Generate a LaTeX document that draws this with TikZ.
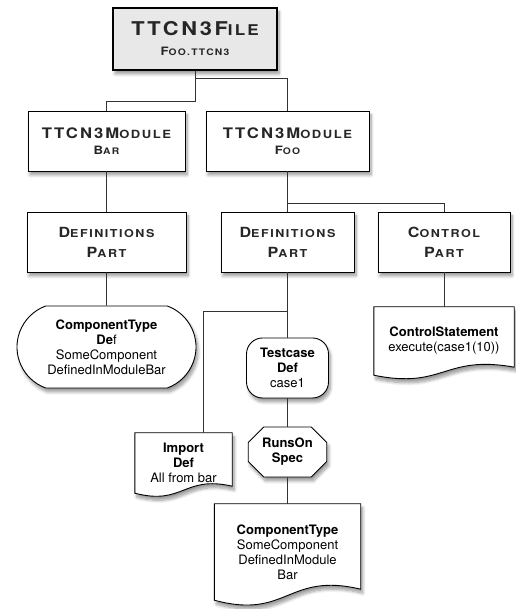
\documentclass[tikz,border=0pt]{standalone}
\usepackage{fontspec}
\setmainfont{TeX Gyre Heros}
\newfontfamily\cpfont[LetterSpace=14,FakeStretch=1.15]{TeX Gyre Heros}
\usetikzlibrary{shapes.misc,shadows.blur,backgrounds,calc}
\tikzset{>=latex}
\makeatletter
\newcommand\cps[1]{{\fontsize{\fpeval{0.78*\f@size}}{\f@baselineskip}\selectfont#1}}
\makeatother

\begin{document}
\begin{tikzpicture}[x=1pt,y=1pt]
        \useasboundingbox (0,0) rectangle (515,609);

        % Setup the styles for the boxes
        \tikzset{part style/.style={draw,
                                    line width=0.9pt,
                                    fill=white,
                                    minimum height=60pt,
                                    align=center,
                                    inner sep=2pt,
                                    blur shadow={shadow xshift=2pt, shadow yshift=-4pt,
                                                 shadow blur steps=8, shadow blur radius=3pt}},
                 cp text/.style={text=black!85, font=\cpfont\bfseries\fontsize{14}{20}\selectfont},
                 round style/.style={part style, rounded rectangle,
                                     rounded rectangle arc length=140,
                                     font=\fontsize{13}{15}\selectfont},
                 doc style/.style={align=center, font=\fontsize{13}{15}\selectfont},
                 doc line/.style={draw, line width=0.9pt, fill=white,
                                  blur shadow={shadow xshift=2pt, shadow yshift=-4pt,
                                               shadow blur steps=8, shadow blur radius=3pt}},
                 link/.style={line width=0.8pt, draw=black!80}}

        % Draw the boxes
        \node[part style, cp text, line width=2.2pt, fill=gray!18, minimum width=164pt, minimum height=62pt,
              font=\cpfont\bfseries\fontsize{19}{20}\selectfont] at (195, 570) (file)
              {TTCN3F\cps{ILE}\\{\fontsize{11.5}{12}\selectfont F\cps{OO.TTCN3}}};
        \node[part style, cp text, minimum width=157pt, font=\cpfont\bfseries\fontsize{14.5}{16}\selectfont]
              at (106.5, 468) (modbar) {TTCN3M\cps{ODULE}\\{\fontsize{11.5}{12}\selectfont B\cps{AR}}};
        \node[part style, cp text, minimum width=163pt, font=\cpfont\bfseries\fontsize{14.5}{16}\selectfont]
              at (287.5, 468) (modfoo) {TTCN3M\cps{ODULE}\\{\fontsize{11.5}{12}\selectfont F\cps{OO}}};
        \node[part style, cp text, minimum width=159pt] at (106.5, 367) (defbar) {D\cps{EFINITIONS}\\P\cps{ART}};
        \node[part style, cp text, minimum width=133pt] at (287.5, 367) (deffoo) {D\cps{EFINITIONS}\\P\cps{ART}};
        \node[part style, cp text, minimum width=132pt] at (444, 367)   (ctrl)   {C\cps{ONTROL}\\P\cps{ART}};

        \node[round style, minimum width=183pt, minimum height=82pt] at (106.5, 262) (ctdef)
              {\textbf{ComponentType}\\\textbf{De}f\\SomeComponent\\DefinedInModuleBar};
        \node[part style, rounded corners=16pt, minimum width=82pt, font=\fontsize{13}{15}\selectfont]
              at (287.5, 241) (testcase) {\textbf{Testcase}\\\textbf{Def}\\case1};
        \node[part style, chamfered rectangle, chamfered rectangle xsep=12pt,
              minimum width=70pt, minimum height=50pt, font=\fontsize{13}{15}\selectfont]
              at (287.5, 157) (runson) {\textbf{RunsOn}\\\textbf{Spec}};

        \node[doc style, minimum width=140pt, minimum height=68pt] at (444, 268)  (ctrlstmt)
              {\textbf{ControlStatement}\\execute(case1(10))};
        \node[doc style, minimum width=97pt, minimum height=60pt]  at (183.5, 146) (imp)
              {\textbf{Import}\\\textbf{Def}\\All from bar};
        \node[doc style, minimum width=146pt, minimum height=96pt] at (287.5, 57)  (ctbar)
              {\textbf{ComponentType}\\SomeComponent\\DefinedInModule\\Bar};

        % Paper outlines behind the texts
        \begin{scope}[on background layer]
        \foreach \n/\w in {imp/7, ctrlstmt/8, ctbar/11}
            \path[doc line] (\n.south west) -- (\n.north west) -- (\n.north east)
                -- ($(\n.south east)+(0,\w)$)
                .. controls ($(\n.south)+(0,2.6*\w)$) and ($(\n.south)+(0,-1.8*\w)$) .. (\n.south west)
                -- cycle;
        \end{scope}

        % Connect the boxes
        \draw[link] (file.south) -- ++(0,-30) -| (modbar.north);
        \draw[link] ([yshift=-7pt]file.south) -| (modfoo.north);
        \draw[link] (modfoo.south) ++(0,-32) -| (ctrl.north);
        \draw[link] (deffoo.south) ++(0,-39) -| ([xshift=20pt]imp.north);
        \draw[link]
            (modbar) edge (defbar)
            (defbar) edge (ctdef)
            (modfoo) edge (deffoo)
            (ctrl) edge (ctrlstmt)
            (deffoo) edge (testcase)
            (testcase) edge (runson)
            (runson) edge (ctbar);
\end{tikzpicture}
\end{document}
